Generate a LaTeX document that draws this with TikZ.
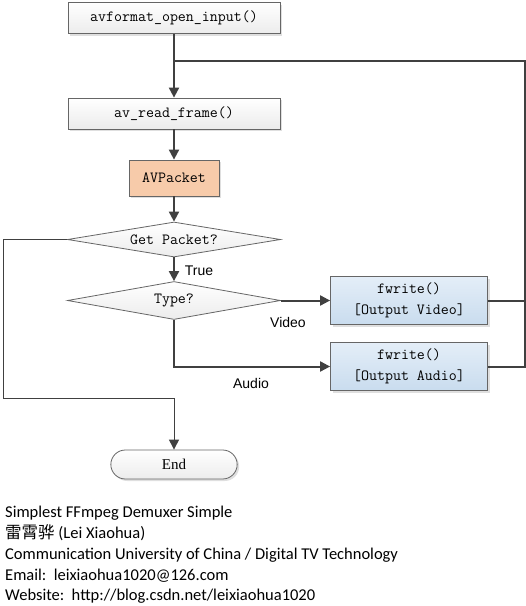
\documentclass[tikz,border=0pt]{standalone}
\usepackage{fontspec}
\setmainfont{Liberation Serif}
\newfontfamily\labfont{Liberation Sans}
\newfontfamily\notefont{Carlito}
\newfontfamily\cjk{Noto Sans CJK SC}
\usetikzlibrary{arrows.meta,shapes.geometric,shapes.misc,shadows}
\definecolor{linec}{HTML}{404040}
\definecolor{boxtop}{HTML}{FFFFFF}
\definecolor{boxbot}{HTML}{ECECEC}
\definecolor{bluetop}{HTML}{E4EEF8}
\definecolor{bluebot}{HTML}{C9DCEE}
\definecolor{orangef}{HTML}{F7CBAA}
\tikzset{
  boxtext/.style={font=\ttfamily\fontsize{15.5}{17}\selectfont},
  procbox/.style={boxtext, draw=linec!80, line width=0.8pt, top color=boxtop, bottom color=boxbot,
    minimum width=212pt, minimum height=31pt,
    drop shadow={shadow xshift=2pt, shadow yshift=-2pt, opacity=0.25}},
  pktbox/.style={boxtext, draw=linec!80, line width=0.8pt, fill=orangef,
    minimum width=90pt, minimum height=36pt,
    drop shadow={shadow xshift=2pt, shadow yshift=-2pt, opacity=0.25}},
  outbox/.style={draw=linec!80, line width=0.8pt, top color=bluetop, bottom color=bluebot,
    minimum width=157pt, minimum height=48pt, align=center,
    font=\ttfamily\fontsize{15.5}{21}\selectfont,
    drop shadow={shadow xshift=2pt, shadow yshift=-2pt, opacity=0.25}},
  decision/.style={boxtext, diamond, draw=linec!80, line width=0.8pt, top color=boxtop, bottom color=boxbot,
    aspect=6, inner sep=0pt},
  endbox/.style={rounded rectangle, draw=linec!80, line width=0.8pt, top color=boxtop, bottom color=boxbot,
    minimum width=133pt, minimum height=29pt, font=\fontsize{15}{17}\selectfont,
    drop shadow={shadow xshift=2pt, shadow yshift=-2pt, opacity=0.25}},
  flow/.style={draw=linec, line width=2pt, -{Triangle[length=10pt,width=10pt]}},
  flowplain/.style={draw=linec, line width=2pt},
  thinflow/.style={draw=linec, line width=1pt, -{Triangle[length=10pt,width=10pt]}},
  lab/.style={font=\labfont\fontsize{14}{16}\selectfont, text=black, inner sep=0pt},
  note/.style={anchor=west, font=\notefont\fontsize{16.5}{19}\selectfont, text height=12pt, text depth=3pt, inner sep=0pt}
}
\begin{document}
\begin{tikzpicture}[x=1pt,y=-1pt]
\useasboundingbox (0,0) rectangle (526,606);
\fill[white] (0,0) rectangle (526,606);
\node[procbox] (open) at (174,18) {avformat\_open\_input()};
\node[procbox] (read) at (174,113.5) {av\_read\_frame()};
\node[pktbox] (pkt) at (174,178) {AVPacket};
\node[decision, minimum width=213pt, minimum height=35pt] (get) at (174,239.5) {Get Packet?};
\node[decision, minimum width=213pt, minimum height=38pt] (type) at (174,300.5) {Type?};
\node[outbox] (vid) at (409,300.5) {fwrite()\\{[}Output Video{]}};
\node[outbox] (aud) at (409,366.5) {fwrite()\\{[}Output Audio{]}};
\node[endbox] (end) at (174,464.5) {End};
\coordinate (j1) at (174,61);
\coordinate (rt) at (525,61);
\coordinate (rv) at (525,300.5);
\coordinate (ra) at (525,366.5);
\coordinate (tb) at (174,366.5);
\coordinate (lf) at (3,239.5);
\coordinate (lb) at (3,398);
\coordinate (cb) at (174,398);
\draw[flow] (open.south) -- (read.north);
\draw[flow] (read.south) -- (pkt.north);
\draw[flow] (pkt.south) -- (get.north);
\draw[flow] (get.south) -- (type.north);
\draw[flow] (type.east) -- (vid.west);
\draw[flow] (type.south) -- (tb) -- (aud.west);
\draw[flowplain] (vid.east) -- (rv);
\draw[flowplain] (aud.east) -- (ra) -- (rt) -- (j1);
\draw[thinflow] (get.west) -- (lf) -- (lb) -- (cb) -- (end.north);
\node[lab] (ltrue) at (199,271) {True};
\node[lab] (lvid) at (288,322) {Video};
\node[lab] (laud) at (251,383) {Audio};
\node[note] (n1) at (5,513) {Simplest FFmpeg Demuxer Simple};
\node[note] (n2) at (5,534) {{\cjk 雷霄骅} (Lei Xiaohua)};
\node[note] (n3) at (5,555) {Communication University of China / Digital TV Technology};
\node[note] (n4) at (5,576) {Email:\ \ leixiaohua1020@126.com};
\node[note] (n5) at (5,596) {Website:\ \ http://blog.csdn.net/leixiaohua1020};
\end{tikzpicture}
\end{document}
